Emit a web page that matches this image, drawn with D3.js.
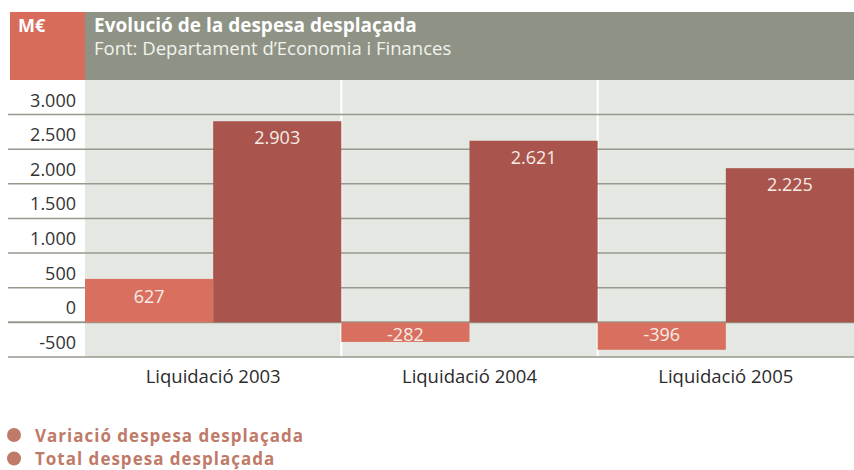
<!DOCTYPE html>
<html>
<head>
<meta charset="utf-8">
<script src="https://cdn.jsdelivr.net/npm/d3@7/dist/d3.min.js"></script>
<style>
  body { margin: 0; background: #fff; }
  svg { display: block; font-family: "Open Sans", Lato, sans-serif; }
</style>
</head>
<body>
<svg id="chart" width="854" height="470"></svg>
<script>
// data
var categories = ["Liquidació 2003", "Liquidació 2004", "Liquidació 2005"];
var seriesNames = ["Variació despesa desplaçada", "Total despesa desplaçada"];
var variacio = [627, -282, -396];
var total = [2903, 2621, 2225];
var yTicks = [-500, 0, 500, 1000, 1500, 2000, 2500, 3000];
var colors = ["#d9705f", "#a9554d"];

var svg = d3.select("#chart");
var locale = d3.formatLocale({ decimal: ",", thousands: ".", grouping: [3], currency: ["", "€"], minus: "-" });
var fmt = locale.format(",d");

var plot = { left: 85, right: 854, top: 80, bottom: 357 };

var y = d3.scaleLinear().domain([-500, 3000]).range([357, 114.5]);
var x = d3.scaleBand().domain(categories).range([plot.left, plot.right]).padding(0);
var xs = d3.scaleBand().domain(seriesNames).range([0, x.bandwidth()]).padding(0);

// header
svg.append("rect").attr("x", 10).attr("y", 12).attr("width", 75).attr("height", 68).attr("fill", "#d86c5b");
svg.append("rect").attr("x", 85).attr("y", 12).attr("width", 769).attr("height", 68).attr("fill", "#8e9385");
svg.append("text").text("M€").attr("x", 18).attr("y", 32).attr("fill", "#fff")
    .attr("font-weight", "bold").attr("font-size", 18);
svg.append("text").text("Evolució de la despesa desplaçada").attr("x", 94).attr("y", 31.5)
    .attr("fill", "#fff").attr("font-weight", "bold").attr("font-size", 19);
svg.append("text").text("Font: Departament d’Economia i Finances").attr("x", 94).attr("y", 55)
    .attr("fill", "#f2f2ee").attr("font-size", 18.5);

// plot background
svg.append("rect").attr("x", plot.left).attr("y", plot.top)
    .attr("width", plot.right - plot.left).attr("height", plot.bottom - plot.top).attr("fill", "#e5e7e3");

// group separators
categories.slice(1).forEach(function (c) {
    svg.append("line").attr("x1", x(c)).attr("x2", x(c)).attr("y1", plot.top).attr("y2", plot.bottom)
        .attr("stroke", "#fff").attr("stroke-width", 2);
});

// gridlines + y labels
var grid = svg.append("g");
yTicks.forEach(function (t) {
    grid.append("line").attr("x1", 8).attr("x2", plot.right).attr("y1", y(t)).attr("y2", y(t))
        .attr("stroke", "#959a8c").attr("stroke-width", t === 0 ? 2 : 1.5);
    grid.append("text").text(fmt(t)).attr("x", 76).attr("y", y(t) - 8)
        .attr("text-anchor", "end").attr("font-size", 18).attr("fill", "#333");
});

// bars
var rows = categories.map(function (c, i) {
    return { cat: c, values: [variacio[i], total[i]] };
});
var groups = svg.append("g").selectAll("g").data(rows).join("g")
    .attr("transform", function (d) { return "translate(" + x(d.cat) + ",0)"; });

function cells(d) {
    return d.values.map(function (v, j) { return { s: seriesNames[j], v: v, j: j }; });
}

groups.selectAll("rect").data(cells).join("rect")
    .attr("x", function (d) { return xs(d.s); })
    .attr("width", xs.bandwidth())
    .attr("y", function (d) { return y(Math.max(0, d.v)); })
    .attr("height", function (d) { return Math.abs(y(d.v) - y(0)); })
    .attr("fill", function (d) { return colors[d.j]; });

groups.selectAll("text.val").data(cells).join("text").attr("class", "val")
    .text(function (d) { return fmt(d.v); })
    .attr("x", function (d) { return xs(d.s) + xs.bandwidth() / 2; })
    .attr("y", function (d) {
        if (d.j === 1) return y(d.v) + 23;
        if (d.v >= 0) return (y(d.v) + y(0)) / 2 + 2;
        return y(0) + 18.5;
    })
    .attr("text-anchor", "middle").attr("font-size", 18).attr("fill", "#f6ece6");

// x labels
svg.append("g").selectAll("text").data(categories).join("text")
    .text(function (d) { return d; })
    .attr("x", function (d) { return x(d) + x.bandwidth() / 2; })
    .attr("y", 383).attr("text-anchor", "middle").attr("font-size", 18.5).attr("fill", "#2b2b2b");

// legend
var legend = svg.append("g").selectAll("g").data(seriesNames).join("g")
    .attr("transform", function (d, i) { return "translate(0," + (435 + i * 23.5) + ")"; });
legend.append("circle").attr("cx", 14).attr("cy", 0).attr("r", 7).attr("fill", "#c07a68");
legend.append("text").text(function (d) { return d; }).attr("x", 35).attr("y", 6.5)
    .attr("font-weight", "bold").attr("font-size", 17).attr("letter-spacing", 1)
    .attr("fill", "#c07a68");
</script>
</body>
</html>
